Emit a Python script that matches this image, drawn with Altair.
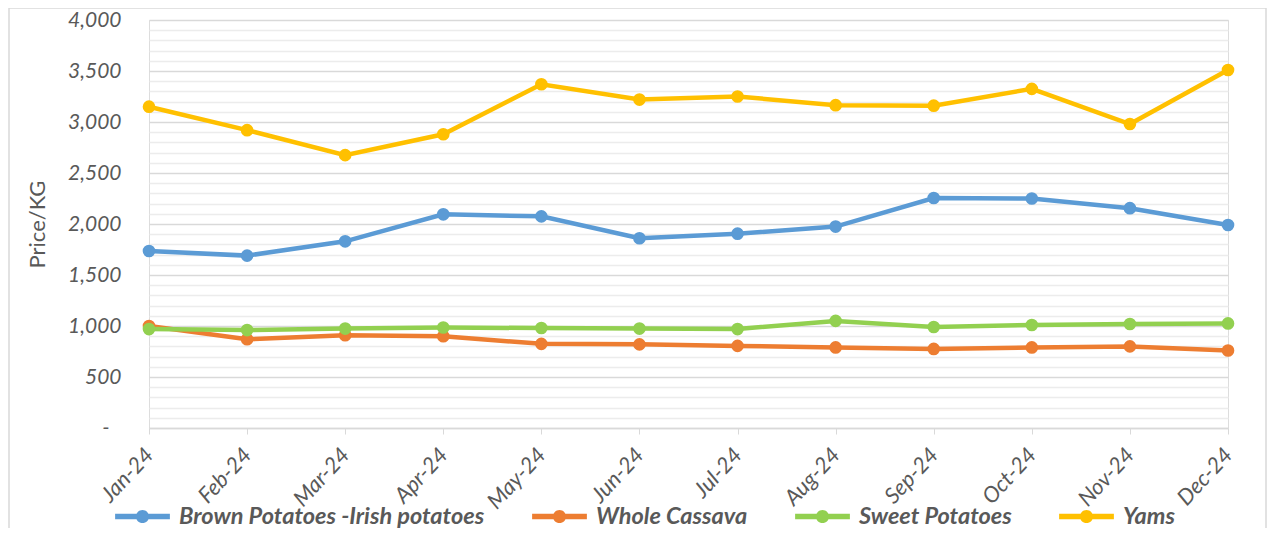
import altair as alt
import pandas as pd

months = ["Jan-24", "Feb-24", "Mar-24", "Apr-24", "May-24", "Jun-24",
          "Jul-24", "Aug-24", "Sep-24", "Oct-24", "Nov-24", "Dec-24"]
series_names = ["Brown Potatoes -Irish potatoes", "Whole Cassava", "Sweet Potatoes", "Yams"]
brown = [1735, 1690, 1830, 2095, 2075, 1860, 1905, 1975, 2255, 2250, 2155, 1990]
cassava = [1000, 870, 910, 900, 825, 820, 805, 790, 775, 790, 800, 760]
sweet = [970, 960, 975, 985, 980, 975, 970, 1050, 990, 1010, 1020, 1025]
yams = [3150, 2920, 2675, 2880, 3370, 3220, 3250, 3165, 3160, 3325, 2980, 3510]
colors = ["#5B9BD5", "#ED7D31", "#92D050", "#FFC000"]

rows = []
for si, (name, vals) in enumerate(zip(series_names, [brown, cassava, sweet, yams])):
    for m, v in zip(months, vals):
        rows.append({"month": m, "series": name, "price": v, "order": si})
df = pd.DataFrame(rows)

FONT = "Lato"
GRAY = "#595959"

x_enc = alt.X("month:N", sort=months, scale=alt.Scale(type="point", padding=0),
              axis=alt.Axis(title=None, labelAngle=-47, labelAlign="right", labelBaseline="middle",
                            labelFont=FONT, labelFontSize=22, labelFontStyle="italic",
                            labelColor=GRAY, labelPadding=17, tickSize=6, tickColor="#d9d9d9",
                            domainColor="#d9d9d9", domainWidth=1.5, grid=False))
y_enc = alt.Y("price:Q", scale=alt.Scale(domain=[0, 4000], nice=False),
              axis=alt.Axis(title="Price/KG", values=list(range(0, 4001, 100)),
                            labelExpr="datum.value === 0 ? '-' : (datum.value % 500 === 0 ? format(datum.value, ',') : '')",
                            labelFont=FONT, labelFontSize=21, labelFontStyle="italic", labelColor=GRAY,
                            labelPadding={"condition": {"test": "datum.value === 0", "value": 40}, "value": 28},
                            ticks=False, domain=False,
                            gridColor={"condition": {"test": "datum.value % 500 === 0", "value": "#d9d9d9"},
                                       "value": "#ececec"},
                            gridWidth=1.5,
                            titleFont=FONT, titleFontSize=22, titleFontWeight="normal", titleColor=GRAY,
                            titlePadding=18))

legend_shape = ("M-1,-0.1L1,-0.1L1,0.1L-1,0.1Z "
                "M-0.24,0A0.24,0.24 0 1,1 0.24,0A0.24,0.24 0 1,1 -0.24,0Z")

color_enc = alt.Color("series:N", scale=alt.Scale(domain=series_names, range=colors),
                      legend=alt.Legend(title=None, orient="none", legendX=-34, legendY=469,
                                        direction="horizontal", columns=4,
                                        symbolType=legend_shape, symbolSize=3000,
                                        symbolStrokeWidth=0, symbolOpacity=1,
                                        labelFont=FONT, labelFontSize=23.5, labelFontStyle="italic",
                                        labelFontWeight="bold", labelColor=GRAY, labelOffset=9,
                                        columnPadding=47, labelLimit=400))

base = alt.Chart(df).encode(x=x_enc, y=y_enc, color=color_enc, order="order:Q")
lines = base.mark_line(strokeWidth=4.5)
points = base.mark_point(filled=True, size=160, opacity=1, shape="circle")

border = alt.Chart(pd.DataFrame({"a": [0]})).mark_rect(fill=None, stroke="#d9d9d9", strokeWidth=1.5).encode(
    x=alt.value(-140), x2=alt.value(1117), y=alt.value(-12), y2=alt.value(560))

chart = alt.layer(border, lines, points).properties(
    width=1079, height=408,
    padding={"left": 141, "top": 12, "right": 40, "bottom": 100},
    autosize=alt.AutoSizeParams(type="none"),
).configure_view(stroke=None).configure(background="white")

chart.save("out.html", embed_options={"renderer": "svg", "actions": False})
